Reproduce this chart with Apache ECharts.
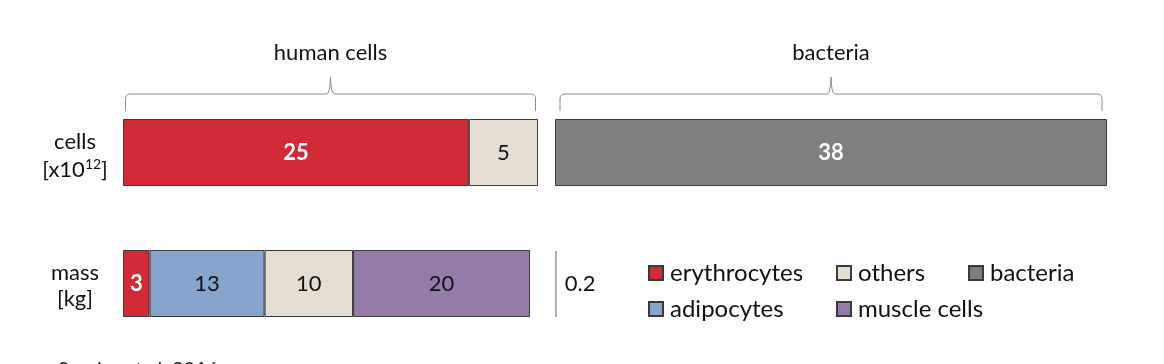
<!DOCTYPE html>
<html><head><meta charset="utf-8">
<script src="https://cdn.jsdelivr.net/npm/echarts@6/dist/echarts.min.js"></script>
<style>html,body{margin:0;padding:0;background:#fff;}#c{width:1164px;height:364px;}</style>
</head><body><div id="c"></div>
<script>
// ---- data ----
const rowLabels = ['cells\n[x10¹²]', 'mass\n[kg]'];
const groupTitles = ['human cells', 'bacteria'];
const cellCategories = ['erythrocytes', 'others'];
const humanCells = [25, 5];
const bacteriaCells = [38];
const massCategories = ['erythrocytes', 'adipocytes', 'others', 'muscle cells'];
const humanMass = [3, 13, 10, 20];
const bacteriaMass = [0.2];
const source = 'Sender et al. 2016';

const FONT = 'Lato';
const colors = {
  'erythrocytes': '#D22B38',
  'others': '#E4DDD2',
  'bacteria': '#808080',
  'adipocytes': '#85A5CC',
  'muscle cells': '#947BAA'
};
const whiteBold = { 'erythrocytes': true, 'bacteria': true };
const sum = a => a.reduce((s, v) => s + v, 0);

const chart = echarts.init(document.getElementById('c'));

const grids = [
  { left: 123, width: 415, top: 119, height: 67 },
  { left: 555, width: 552, top: 119, height: 67 },
  { left: 123, width: 407, top: 250, height: 67 },
  { left: 555, width: 407, top: 251, height: 66 }
];
const maxes = [sum(humanCells), sum(bacteriaCells), sum(humanMass), sum(humanMass)];

const xAxes = grids.map((g, i) => ({
  gridIndex: i, type: 'value', min: 0, max: maxes[i], show: false
}));
const yAxes = grids.map((g, i) => ({
  gridIndex: i, type: 'category', data: [i === 0 ? rowLabels[0] : i === 2 ? rowLabels[1] : ''],
  axisLine: { show: false }, axisTick: { show: false }, splitLine: { show: false },
  axisLabel: {
    show: i === 0 || i === 2, align: 'center', margin: 48,
    padding: [i === 0 ? 7 : 5, 0, 0, 0],
    formatter: v => v.split('\n').map(l => l.replace('¹²', '}{s|12}{a|')).map(l => '{a|' + l + '}').join('\n'),
    rich: {
      a: { fontFamily: FONT, fontSize: 22, color: '#111', lineHeight: i === 0 ? 28 : 26 },
      s: { fontFamily: FONT, fontSize: 14, color: '#111', lineHeight: 16, verticalAlign: 'top', padding: [1, 0, 0, 0] }
    }
  }
}));

function barSeries(name, value, gi, opts) {
  opts = opts || {};
  return {
    type: 'bar', name: name, xAxisIndex: gi, yAxisIndex: gi, stack: 's' + gi,
    barWidth: '100%', data: [value],
    itemStyle: opts.itemStyle || { color: colors[name], borderColor: '#3a3a3a', borderWidth: 1 },
    label: opts.label || {
      show: true, position: 'inside', fontFamily: FONT, fontSize: 22,
      color: whiteBold[name] ? '#fff' : '#111', fontWeight: whiteBold[name] ? 'bold' : 'normal'
    },
    emphasis: { disabled: true }, animation: false
  };
}

const series = [];
cellCategories.forEach((n, i) => series.push(barSeries(n, humanCells[i], 0)));
series.push(barSeries('bacteria', bacteriaCells[0], 1));
massCategories.forEach((n, i) => series.push(barSeries(n, humanMass[i], 2)));
series.push(barSeries('bacteria', bacteriaMass[0], 3, {
  itemStyle: { color: '#a6a6a6' },
  label: { show: true, position: 'right', distance: 8, fontFamily: FONT, fontSize: 22, color: '#111' }
}));

const legendText = { fontFamily: FONT, fontSize: 24, color: '#111', padding: [0, 0, 0, 2] };
function legend(left, names) {
  return {
    left: left, top: 256, orient: 'vertical', itemGap: 12, itemWidth: 14, itemHeight: 14,
    icon: 'rect', data: names, textStyle: legendText, selectedMode: false
  };
}

chart.setOption({
  animation: false,
  grid: grids,
  xAxis: xAxes,
  yAxis: yAxes,
  series: series,
  legend: [
    legend(643, ['erythrocytes', 'adipocytes']),
    legend(831, ['others', 'muscle cells']),
    legend(963, ['bacteria'])
  ]
});

// braces + titles placed from the axes' own scale
function brace(gi, title, inset) {
  const x1 = chart.convertToPixel({ xAxisIndex: gi }, 0) + inset;
  const x2 = chart.convertToPixel({ xAxisIndex: gi }, maxes[gi]) - inset;
  const top = grids[gi].top;
  const yEnd = top - 8, yH = top - 25, yP = top - 42, r = 5, xc = (x1 + x2) / 2;
  const st = { fill: null, stroke: '#8a8a8a', lineWidth: 1 };
  const L = (a, b, c, d) => ({ type: 'line', shape: { x1: a, y1: b, x2: c, y2: d }, style: st });
  const Q = (a, b, cx, cy, c, d) => ({ type: 'bezierCurve', shape: { x1: a, y1: b, x2: c, y2: d, cpx1: cx, cpy1: cy }, style: st });
  return [
    L(x1, yEnd, x1, yH + r),
    Q(x1, yH + r, x1, yH, x1 + r, yH),
    L(x1 + r, yH, xc - 4, yH),
    Q(xc - 4, yH, xc - 0.5, yH, xc, yP),
    Q(xc, yP, xc + 0.5, yH, xc + 4, yH),
    L(xc + 4, yH, x2 - r, yH),
    Q(x2 - r, yH, x2, yH, x2, yH + r),
    L(x2, yH + r, x2, yEnd),
    { type: 'text', x: xc, y: top - 66, style: { text: title, fontFamily: FONT, fontSize: 22, fill: '#111', align: 'center', verticalAlign: 'middle' } }
  ];
}
chart.setOption({
  graphic: [].concat(brace(0, groupTitles[0], 2.5), brace(1, groupTitles[1], 5), [
    { type: 'text', left: 58, top: 360, style: { text: source, fontFamily: FONT, fontSize: 20, fill: '#222' } }
  ])
});
</script></body></html>
